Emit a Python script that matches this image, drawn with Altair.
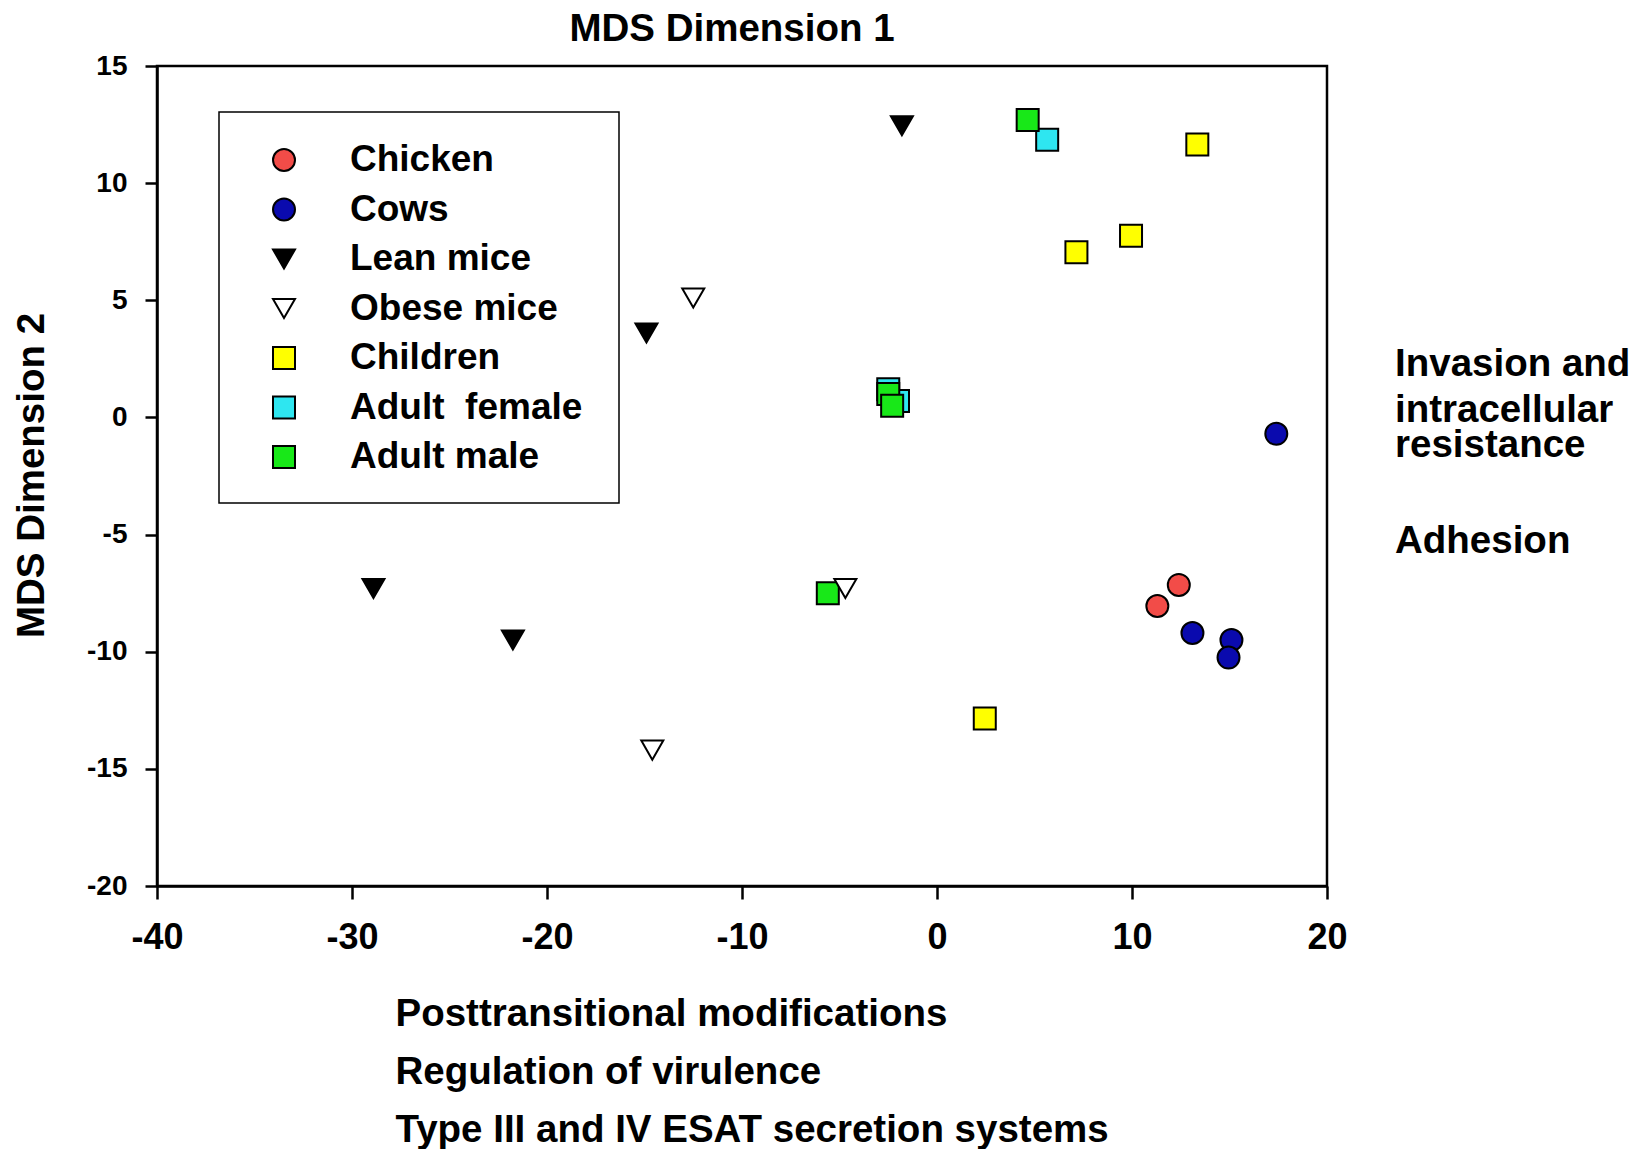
import altair as alt
import pandas as pd

# ---- categories and styles ----
groups = ["Chicken", "Cows", "Lean mice", "Obese mice", "Children", "Adult\u00a0 female", "Adult male"]
fills = ["#F24C48", "#0A0AAE", "#000000", "#FFFFFF", "#FFFF00", "#2EE6F0", "#18E818"]
shapes = ["circle", "circle", "triangle-down", "triangle-down", "square", "square", "square"]
sizes = [484, 484, 600, 600, 441, 441, 441]

# ---- data (MDS coordinates) ----
chicken_x = [11.3, 12.4]
chicken_y = [-8.05, -7.15]
cows_x = [13.1, 15.1, 14.95, 17.4]
cows_y = [-9.2, -9.5, -10.25, -0.7]
lean_x = [-1.8, -14.9, -28.9, -21.75]
lean_y = [12.45, 3.6, -7.3, -9.5]
obese_x = [-12.5, -4.7, -14.6]
obese_y = [5.1, -7.3, -14.2]
children_x = [13.35, 9.95, 7.15, 2.45]
children_y = [11.65, 7.75, 7.05, -12.85]
female_x = [5.65, -2.5, -2.0]
female_y = [11.85, 1.2, 0.7]
male_x = [4.65, -2.5, -2.3, -5.6]
male_y = [12.7, 1.0, 0.5, -7.5]

x_ticks = [-40, -30, -20, -10, 0, 10, 20]
y_ticks = [-20, -15, -10, -5, 0, 5, 10, 15]

top_title = "MDS Dimension 1"
y_title = "MDS Dimension 2"
bottom_lines = ["Posttransitional modifications", "Regulation of virulence",
                "Type III and IV ESAT secretion systems"]
right_lines = ["Invasion and", "intracellular", "resistance", "Adhesion"]

# draw order (later drawn on top)
series = [
    ("Children", children_x, children_y),
    ("Adult\u00a0 female", female_x, female_y),
    ("Adult male", male_x, male_y),
    ("Chicken", chicken_x, chicken_y),
    ("Cows", cows_x, cows_y),
    ("Lean mice", lean_x, lean_y),
    ("Obese mice", obese_x, obese_y),
]
rows = []
for name, xs, ys in series:
    for xv, yv in zip(xs, ys):
        rows.append({"group": name, "x": xv, "y": yv})
df = pd.DataFrame(rows)
df["order"] = range(len(df))

FONT = "Liberation Sans"
BIG = 38.5

fill_enc = alt.Fill("group:N", scale=alt.Scale(domain=groups, range=fills), legend=None)
shape_enc = alt.Shape("group:N", scale=alt.Scale(domain=groups, range=shapes), legend=None)
size_enc = alt.Size("group:N", scale=alt.Scale(domain=groups, range=sizes), legend=None)

points = alt.Chart(df).mark_point(
    filled=True, stroke="black", strokeWidth=2, opacity=1
).encode(
    x=alt.X("x:Q",
            scale=alt.Scale(domain=[-40, 20], nice=False, zero=False),
            axis=alt.Axis(values=x_ticks, labelExpr="'' + datum.value", labelFlush=False,
                          title=bottom_lines, titleAlign="left", titleAnchor="start",
                          titleX=238, titleY=139, titleBaseline="alphabetic",
                          titleLineHeight=58, titleFontSize=BIG,
                          labelFontSize=36, tickSize=13, labelPadding=21)),
    y=alt.Y("y:Q",
            scale=alt.Scale(domain=[-20, 15], nice=False, zero=False),
            axis=alt.Axis(values=y_ticks, labelExpr="'' + datum.value", labelFlush=False,
                          title=y_title, titleAngle=270, titleX=-126, titleY=409,
                          titleAlign="center", titleBaseline="middle",
                          titleFontSize=BIG,
                          labelFontSize=28, tickSize=12, labelPadding=18)),
    fill=fill_enc,
    shape=shape_enc,
    size=size_enc,
    order=alt.Order("order:Q"),
)

# ---- legend (built from the category list) ----
df_leg = pd.DataFrame({"group": groups, "row": list(range(len(groups)))})
leg_y = alt.Y("row:Q", scale=alt.Scale(domain=[0, len(groups) - 1], range=[94, 391]), axis=None)

legend_box = alt.Chart(pd.DataFrame({"a": [0]})).mark_rect(
    fill="white", stroke="black", strokeWidth=1.5
).encode(x=alt.value(62), x2=alt.value(462), y=alt.value(46), y2=alt.value(437))

legend_symbols = alt.Chart(df_leg).mark_point(
    filled=True, stroke="black", strokeWidth=2, opacity=1
).encode(x=alt.value(127), y=leg_y, fill=fill_enc, shape=shape_enc, size=size_enc)

legend_labels = alt.Chart(df_leg).mark_text(
    font=FONT, fontWeight="bold", fontSize=37, color="black",
    align="left", baseline="middle"
).encode(x=alt.value(193), y=leg_y, text="group:N")


def label(text, px, py, align="left"):
    return alt.Chart(pd.DataFrame({"t": [text]})).mark_text(
        font=FONT, fontWeight="bold", fontSize=BIG, color="black",
        align=align, baseline="alphabetic"
    ).encode(text="t:N", x=alt.value(px), y=alt.value(py))


annots = [label(top_title, 575, -25, "center")]
right_y = [310, 356, 391, 487]
for t, yy in zip(right_lines, right_y):
    annots.append(label(t, 1238, yy))

chart = alt.layer(
    points, legend_box, legend_symbols, legend_labels, *annots
).resolve_scale(
    y="independent"
).properties(
    width=1170, height=820,
    padding={"left": 149, "top": 58, "right": 306, "bottom": 263},
    autosize=alt.AutoSizeParams(type="none"),
).configure_view(
    stroke="black", strokeWidth=2.5
).configure_axis(
    grid=False, domainColor="black", domainWidth=2.5, tickColor="black",
    tickWidth=2.5, labelColor="black", labelFont=FONT, labelFontWeight="bold",
    titleColor="black", titleFont=FONT, titleFontWeight="bold"
)

chart.save("out.html", embed_options={"renderer": "svg", "actions": False})
